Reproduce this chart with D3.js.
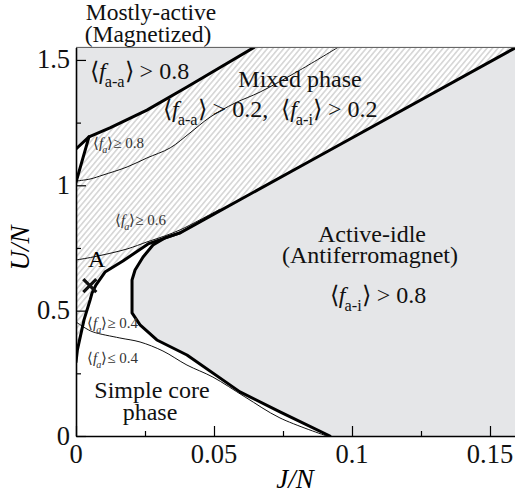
<!DOCTYPE html>
<html>
<head>
<meta charset="utf-8">
<script src="https://cdn.jsdelivr.net/npm/d3@7"></script>
</head>
<body style="margin:0">
<svg id="chart" width="515" height="498"></svg>
<script>
// Axis ticks
const xMajor = [0, 0.05, 0.1, 0.15];
const xMajorLabels = ["0", "0.05", "0.1", "0.15"];
const xMinor = [0.025, 0.075, 0.125];
const yMajor = [0, 0.5, 1, 1.5];
const yMajorLabels = ["0", "0.5", "1", "1.5"];
const yMinor = [0.25, 0.75, 1.25];

// Phase boundaries, [J/N, U/N]
// Mostly-active (magnetized) boundary
const activeBoundary = [
  [0, 1.145], [0.0047, 1.193], [0.0123, 1.229], [0.0257, 1.300],
  [0.0402, 1.392], [0.0645, 1.55]
];
// short boundary closing the small pocket at the U axis
const pocketBoundary = [[0.0047, 1.193], [0, 1.012]];
// lower edge of the mixed phase (towards the simple core)
const mixedLower = [
  [0, 0.295], [0.0005, 0.343], [0.0029, 0.463], [0.0051, 0.542],
  [0.0058, 0.570], [0.0072, 0.602], [0.0105, 0.654], [0.0170, 0.698],
  [0.0261, 0.766], [0.0377, 0.810]
];
// active-idle (antiferromagnet) boundary
const idleBoundary = [
  [0.1594, 1.55], [0.0855, 1.101], [0.0449, 0.854], [0.0377, 0.810],
  [0.0322, 0.790], [0.0279, 0.762], [0.0243, 0.714], [0.0214, 0.662],
  [0.0203, 0.622], [0.0203, 0.491], [0.0232, 0.443], [0.0293, 0.383],
  [0.0402, 0.323], [0.0594, 0.176], [0.0739, 0.096], [0.0920, 0]
];
// <f_a> contours
const contour08 = [
  [0, 1.017], [0.0051, 1.025], [0.0098, 1.041], [0.0185, 1.073],
  [0.0257, 1.109], [0.0341, 1.149], [0.0413, 1.209], [0.0486, 1.272],
  [0.0576, 1.328], [0.0667, 1.372], [0.0812, 1.460], [0.0949, 1.55]
];
const contour06 = [
  [0, 0.702], [0.0062, 0.714], [0.0185, 0.746], [0.0257, 0.774],
  [0.0322, 0.798], [0.0377, 0.822], [0.0449, 0.862], [0.0522, 0.905]
];
const contour04 = [
  [0, 0.455], [0.0033, 0.431], [0.0062, 0.415], [0.0159, 0.391],
  [0.0232, 0.375], [0.0315, 0.339], [0.0402, 0.283], [0.0496, 0.235],
  [0.0612, 0.156], [0.0739, 0.072], [0.0909, 0]
];
// marked parameter point "A"
const pointA = [0.005, 0.6];

const J_MAX = 0.16, U_MAX = 1.55;
const SERIF = "'Liberation Serif'";

const svg = d3.select("#chart");
const x = d3.scaleLinear().domain([0, J_MAX]).range([76, 517.6]);
const y = d3.scaleLinear().domain([0, U_MAX]).range([436, 47.4]);

const defs = svg.append("defs");
defs.append("clipPath").attr("id", "plot-clip")
  .append("rect")
  .attr("x", x(0)).attr("y", y(U_MAX))
  .attr("width", x(J_MAX) - x(0)).attr("height", y(0) - y(U_MAX));

const hatch = defs.append("pattern")
  .attr("id", "hatch")
  .attr("patternUnits", "userSpaceOnUse")
  .attr("width", 4.2).attr("height", 10)
  .attr("patternTransform", "rotate(40)");
hatch.append("rect").attr("width", 4.2).attr("height", 10).attr("fill", "#fff");
hatch.append("rect").attr("width", 1.6).attr("height", 10).attr("fill", "#d6d6d6");

const line = d3.line().x(d => x(d[0])).y(d => y(d[1]));
const smooth = d3.line().x(d => x(d[0])).y(d => y(d[1])).curve(d3.curveCatmullRom.alpha(0.5));

const plot = svg.append("g").attr("clip-path", "url(#plot-clip)");
const GRAY = "#e5e6e8";

// mixed phase (hatched)
const mixedPoly = [].concat(
  activeBoundary,
  idleBoundary.slice(0, 4),
  mixedLower.slice().reverse()
);
plot.append("path")
  .attr("d", line(mixedPoly) + "Z")
  .attr("fill", "url(#hatch)");

// white pocket at the U axis
plot.append("path")
  .attr("d", line([[0, 1.145]].concat(pocketBoundary)) + "Z")
  .attr("fill", "#fff");

// mostly-active region
plot.append("path")
  .attr("d", line([[0, U_MAX]].concat(activeBoundary)) + "Z")
  .attr("fill", GRAY);

// active-idle region
plot.append("path")
  .attr("d", line(idleBoundary.concat([[J_MAX + 0.01, 0], [J_MAX + 0.01, U_MAX]])) + "Z")
  .attr("fill", GRAY);

// thin contours
[contour08, contour06, contour04].forEach(c => {
  plot.append("path").attr("d", smooth(c))
    .attr("fill", "none").attr("stroke", "#111").attr("stroke-width", 1);
});

// thick boundaries
[activeBoundary, pocketBoundary, mixedLower, idleBoundary].forEach(b => {
  plot.append("path").attr("d", line(b))
    .attr("fill", "none").attr("stroke", "#000")
    .attr("stroke-width", 3).attr("stroke-linejoin", "round").attr("stroke-linecap", "round");
});

// top frame
svg.append("line")
  .attr("x1", x(0)).attr("x2", x(J_MAX))
  .attr("y1", y(U_MAX)).attr("y2", y(U_MAX))
  .attr("stroke", "#555").attr("stroke-width", 1);

// axes with inward ticks; tick labels are written separately below
svg.append("g").attr("transform", `translate(0,${y(0)})`)
  .call(d3.axisBottom(x).tickValues(xMajor).tickFormat("")
    .tickSizeInner(-10).tickSizeOuter(0));
svg.append("g").attr("transform", `translate(0,${y(0)})`)
  .call(d3.axisBottom(x).tickValues(xMinor).tickFormat("")
    .tickSizeInner(-5).tickSizeOuter(0))
  .call(g => g.select(".domain").remove());
svg.append("g").attr("transform", `translate(${x(0)},0)`)
  .call(d3.axisLeft(y).tickValues(yMajor).tickFormat("")
    .tickSizeInner(-10).tickSizeOuter(0));
svg.append("g").attr("transform", `translate(${x(0)},0)`)
  .call(d3.axisLeft(y).tickValues(yMinor).tickFormat("")
    .tickSizeInner(-5).tickSizeOuter(0))
  .call(g => g.select(".domain").remove());

svg.selectAll(".domain").attr("stroke", "#000").attr("stroke-width", 1.6);
svg.selectAll(".tick line").attr("stroke", "#000").attr("stroke-width", 1.2);
svg.selectAll(".tick text").remove();

// tick labels
xMajor.forEach((v, i) => {
  svg.append("text")
    .style("font-family", SERIF)
    .attr("x", x(v)).attr("y", y(0) + 27)
    .attr("text-anchor", "middle")
    .attr("font-size", 26.5).attr("fill", "#111")
    .text(xMajorLabels[i]);
});
yMajor.forEach((v, i) => {
  svg.append("text")
    .style("font-family", SERIF)
    .attr("x", x(0) - 6).attr("y", y(v) + 8.5)
    .attr("text-anchor", "end")
    .attr("font-size", 26.5).attr("fill", "#111")
    .text(yMajorLabels[i]);
});

// axis titles
svg.append("text")
  .style("font-family", SERIF)
  .attr("transform", "translate(29,248) rotate(-90)")
  .attr("text-anchor", "middle")
  .attr("font-size", 27).attr("font-style", "italic")
  .text("U/N");
svg.append("text")
  .style("font-family", SERIF)
  .attr("x", 295).attr("y", 488)
  .attr("text-anchor", "middle")
  .attr("font-size", 27).attr("font-style", "italic")
  .text("J/N");

// marked point
const px = x(pointA[0]), py = y(pointA[1]);
svg.append("path")
  .attr("d", `M${px - 6.5},${py - 6.5}L${px + 6.5},${py + 6.5}M${px - 6.5},${py + 6.5}L${px + 6.5},${py - 6.5}`)
  .attr("stroke", "#111").attr("stroke-width", 3.2).attr("fill", "none");
svg.append("text")
  .style("font-family", SERIF)
  .attr("x", 88).attr("y", 267)
  .attr("font-size", 24).text("A");

// labels built from pieces: plain text, italic, subscript
function label(xp, yp, size, parts, anchor, color) {
  const t = svg.append("text")
    .style("font-family", SERIF)
    .attr("x", xp).attr("y", yp)
    .attr("font-size", size).attr("fill", color || "#111")
    .attr("text-anchor", anchor || "start");
  let shift = 0;
  parts.forEach(p => {
    const s = t.append("tspan").text(p.t);
    const target = p.sub ? size * 0.33 : 0;
    if (target !== shift) { s.attr("dy", target - shift); shift = target; }
    if (p.sub) s.attr("font-size", size * 0.68);
    if (p.it) s.attr("font-style", "italic");
    if (p.dx) s.attr("dx", p.dx);
  });
  return t;
}
const LA = "\u27E8", RA = "\u27E9";

label(151, 20, 23.5, [{ t: "Mostly-active" }], "middle");
label(148, 42, 23.5, [{ t: "(Magnetized)" }], "middle");
label(90, 79, 24, [{ t: LA }, { t: "f", it: true }, { t: "a-a", sub: true, dx: -1 }, { t: RA }, { t: " > 0.8" }]);
label(300, 87, 24, [{ t: "Mixed phase" }], "middle");
label(163, 117, 24, [
  { t: LA }, { t: "f", it: true }, { t: "a-a", sub: true, dx: -1 }, { t: RA }, { t: " > 0.2," },
  { t: LA, dx: 13 }, { t: "f", it: true }, { t: "a-i", sub: true, dx: -1 }, { t: RA }, { t: " > 0.2" }
]);
label(372, 242, 24, [{ t: "Active-idle" }], "middle");
label(370, 263, 24, [{ t: "(Antiferromagnet)" }], "middle");
label(378, 303, 24, [{ t: LA }, { t: "f", it: true }, { t: "a-i", sub: true, dx: -1 }, { t: RA }, { t: " > 0.8" }], "middle");
label(152, 398, 24, [{ t: "Simple core" }], "middle");
label(150, 420, 24, [{ t: "phase" }], "middle");

const small = [
  { x: 93, y: 148, t: "\u2265 0.8" },
  { x: 115, y: 225, t: "\u2265 0.6" },
  { x: 87, y: 328, t: "\u2265 0.4" },
  { x: 87, y: 363, t: "\u2264 0.4" }
];
small.forEach(s => {
  label(s.x, s.y, 15, [{ t: LA }, { t: "f", it: true }, { t: "a", sub: true, it: true, dx: -1 }, { t: RA }, { t: s.t }], "start", "#333");
});
</script>
</body>
</html>
